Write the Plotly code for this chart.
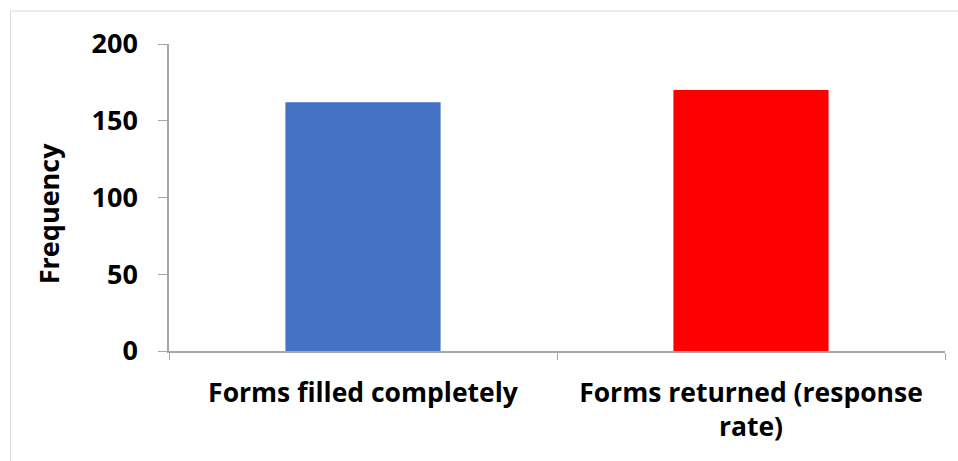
import plotly.graph_objects as go

categories = ["Forms filled completely", "Forms returned (response<br>rate)"]
values = [162, 170]
colors = ["#4472C4", "#FF0000"]
y_ticks = [0, 50, 100, 150, 200]
y_title = "Frequency"

FONT = "'Open Sans', 'Liberation Sans', sans-serif"

fig = go.Figure(go.Bar(
    x=categories, y=values,
    marker=dict(color=colors, line=dict(width=0)),
    width=0.4,
))

fig.update_layout(
    width=958, height=461,
    margin=dict(l=169, r=13, t=44, b=110),
    paper_bgcolor="white", plot_bgcolor="white",
    showlegend=False,
    font=dict(family=FONT, color="black", size=27),
    xaxis=dict(
        showline=True, linecolor="#A6A6A6", linewidth=1.5,
        ticks="outside", tickson="boundaries", ticklen=7, tickcolor="#A6A6A6",
        tickfont=dict(family=FONT, size=26.5, weight="bold"),
        ticklabelstandoff=17,
        showgrid=False, zeroline=False,
    ),
    yaxis=dict(
        range=[0, 200], tickvals=y_ticks,
        showline=True, linecolor="#A6A6A6", linewidth=1.5,
        ticks="outside", ticklen=9, tickcolor="#A6A6A6",
        tickfont=dict(family=FONT, size=27, weight="bold"),
        ticklabelstandoff=15,
        showgrid=False, zeroline=False,
    ),
    annotations=[dict(
        text=y_title, textangle=-90, showarrow=False,
        xref="paper", yref="paper", x=(48 - 169) / 776, y=(351 - 214) / 307.5,
        xanchor="center", yanchor="middle",
        font=dict(family=FONT, size=27, weight="bold", color="black"),
    )],
    shapes=[dict(
        type="rect", xref="paper", yref="paper",
        x0=(10.5 - 169) / 776, x1=1.2, y0=-1, y1=1 + (43.5 - 10.5) / 307.5,
        line=dict(color="#D9D9D9", width=1), layer="below",
    )],
)

fig.write_html("out.html")
